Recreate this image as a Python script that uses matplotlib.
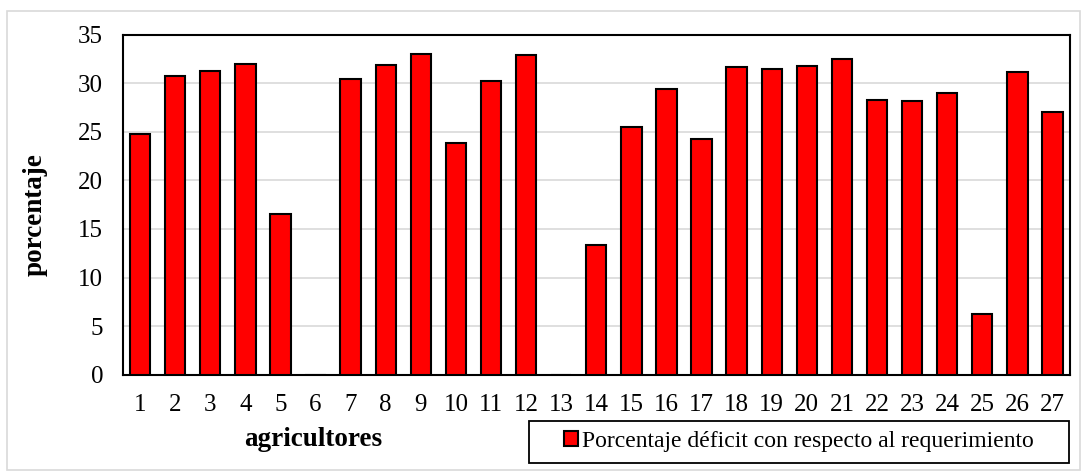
import matplotlib
matplotlib.use("Agg")
import matplotlib.pyplot as plt
from matplotlib.patches import Rectangle

plt.rcParams['font.family'] = ['Liberation Serif', 'DejaVu Serif']

# datos
agricultores = [str(i) for i in range(1, 28)]
deficit = [24.75, 30.8, 31.3, 32.0, 16.5, 0, 30.45, 31.85, 33.0, 23.85,
           30.2, 32.9, 0, 13.4, 25.5, 29.45, 24.3, 31.65, 31.5, 31.8,
           32.45, 28.25, 28.2, 29.0, 6.2, 31.2, 27.0]
yticks = [0, 5, 10, 15, 20, 25, 30, 35]
serie = 'Porcentaje déficit con respecto al requerimiento'

W, H = 1081, 471
fs_tick = 18
fs_label = 19.5
fs_leg = 17
fig = plt.figure(figsize=(W / 100, H / 100), dpi=100)

# borde exterior gris
fig.patches.append(Rectangle((7.5 / W, 1 / H), 1072 / W, 459 / H, transform=fig.transFigure,
                             fill=False, edgecolor='#d9d9d9', linewidth=1.2))

ax = fig.add_axes([122.5 / W, (H - 374.7) / H, 947.5 / W, 340 / H])

x = range(len(agricultores))
ax.bar(x, deficit, width=0.58, color='#ff0000', edgecolor='black', linewidth=1.5,
       label=serie, zorder=3)

ax.set_xlim(-0.5, len(agricultores) - 0.5)
ax.set_ylim(0, 35)
ax.set_yticks(yticks)
ax.set_xticks(list(x))
ax.set_xticklabels(agricultores)
ax.tick_params(axis='both', length=0, labelsize=fs_tick, colors='black')
ax.tick_params(axis='x', pad=14)
ax.tick_params(axis='y', pad=14)
ax.grid(axis='y', color='#d9d9d9', linewidth=1.2, zorder=0)
for s in ax.spines.values():
    s.set_linewidth(1.5)
    s.set_color('black')

ax.set_xlabel('agricultores', fontsize=fs_label, fontweight='bold', va='center')
ax.xaxis.set_label_coords((313 - 122.5) / 947.5, (374.7 - 440) / 340)
ax.set_ylabel('porcentaje', fontsize=fs_label, fontweight='bold', va='center')
ax.yaxis.set_label_coords((35.5 - 122.5) / 947.5, 0.47)

# leyenda: recuadro aparte, contenido centrado
fig.patches.append(Rectangle((529 / W, (H - 462.7) / H), 540 / W, 42 / H,
                             transform=fig.transFigure, fill=False,
                             edgecolor='black', linewidth=1.3))
leg = fig.legend(loc='center', bbox_to_anchor=(799 / W, (H - 441.5) / H),
                 fontsize=fs_leg, frameon=False, borderaxespad=0,
                 handlelength=0.6, handleheight=0.6, handletextpad=0.15,
                 borderpad=0)

plt.savefig('out.png', dpi=100)
